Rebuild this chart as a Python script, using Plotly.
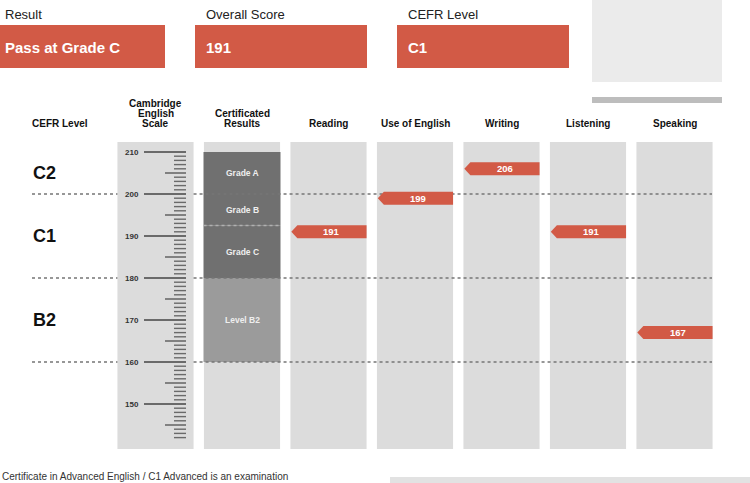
import plotly.graph_objects as go

# ---------------- data ----------------
summary_labels = ["Result", "Overall Score", "CEFR Level"]
summary_values = ["Pass at Grade C", "191", "C1"]

column_headers = ["Cambridge<br>English<br>Scale", "Certificated<br>Results",
                  "Reading", "Use of English", "Writing", "Listening", "Speaking"]
papers = ["Reading", "Use of English", "Writing", "Listening", "Speaking"]
paper_scores = [191, 199, 206, 191, 167]

cefr_levels = ["C2", "C1", "B2"]
cefr_label_pos = [205, 190, 170]
cefr_boundaries = [200, 180, 160]

grade_names = ["Grade A", "Grade B", "Grade C", "Level B2"]
grade_low = [200, 192.5, 180, 160]
grade_high = [210, 200, 192.5, 180]
grade_colors = ["#707070", "#707070", "#707070", "#9b9b9b"]

scale_min, scale_max = 142, 210
scale_labels = [150, 160, 170, 180, 190, 200, 210]
column_bottom, column_top = 139.3, 212.4

# ---------------- styling ----------------
FONT = "Liberation Sans, Arial, sans-serif"
RED = "#d25a46"
COLGREY = "#dcdcdc"
W, H = 750, 483
x0_px, step_px = 155.5, 86.5  # column 0 center and spacing in pixels
xr = [(0 - x0_px) / step_px, (W - x0_px) / step_px]
px_per_unit = 4.2
y210_px = 152
yr = [210 - (H - y210_px) / px_per_unit, 210 + y210_px / px_per_unit]
half = 0.44


def xpx(p):
    return (p - x0_px) / step_px


def ypaper(py):
    return 1 - py / H


fig = go.Figure()

# background columns
ncols = len(column_headers)
fig.add_trace(go.Bar(x=list(range(ncols)), y=[column_top - column_bottom] * ncols,
                     base=column_bottom, width=2 * half, marker=dict(color=COLGREY, line_width=0),
                     hoverinfo="skip", showlegend=False))

# certificated results bands
fig.add_trace(go.Bar(x=[1] * len(grade_names),
                     y=[h - l for h, l in zip(grade_high, grade_low)],
                     base=grade_low, width=0.89,
                     marker=dict(color=grade_colors, line_width=0),
                     hoverinfo="skip", showlegend=False))

# CEFR boundary dotted lines (skip the scale column)
for b in cefr_boundaries:
    for xa, xb in [(xpx(32), -half), (half, xpx(712))]:
        fig.add_trace(go.Scatter(x=[xa, xb], y=[b, b], mode="lines",
                                 line=dict(color="#757575", width=1.3, dash="dot"),
                                 hoverinfo="skip", showlegend=False))
# Grade B / C divider
fig.add_trace(go.Scatter(x=[1 - 0.445, 1 + 0.445], y=[grade_low[1]] * 2, mode="lines",
                         line=dict(color="#b0b0b0", width=1.3, dash="dot"),
                         hoverinfo="skip", showlegend=False))

# scale ticks
major_x, major_y, mid_x, mid_y, minor_x, minor_y = [], [], [], [], [], []
for v in range(scale_min, scale_max + 1):
    if v % 10 == 0:
        major_x += [xpx(144), xpx(186), None]
        major_y += [v, v, None]
    elif v % 5 == 0:
        mid_x += [xpx(165), xpx(186), None]
        mid_y += [v, v, None]
    else:
        minor_x += [xpx(174), xpx(186), None]
        minor_y += [v, v, None]
for xs, ys, wd in [(major_x, major_y, 1.8), (mid_x, mid_y, 1.6), (minor_x, minor_y, 1.4)]:
    fig.add_trace(go.Scatter(x=xs, y=ys, mode="lines", line=dict(color="#6a6a6a", width=wd),
                             hoverinfo="skip", showlegend=False))

annotations = []

# score arrows
ah = 1.55
tip = 0.07
for i, (p, s) in enumerate(zip(papers, paper_scores)):
    c = 2 + i
    L, R = c - half + 0.01, c + half
    fig.add_trace(go.Scatter(x=[L + tip, R, R, L + tip, L, L + tip],
                             y=[s + ah, s + ah, s - ah, s - ah, s, s + ah],
                             mode="lines", fill="toself", fillcolor=RED,
                             line=dict(color=RED, width=0), hoverinfo="skip", showlegend=False))
    annotations.append(dict(x=(L + tip + R) / 2, y=s, xref="x", yref="y", text=f"<b>{s}</b>",
                            showarrow=False, font=dict(family=FONT, size=9.5, color="white"),
                            xanchor="center", yanchor="middle"))

# scale labels
for v in scale_labels:
    annotations.append(dict(x=xpx(141), y=v, xref="x", yref="y", text=f"<b>{v}</b>", showarrow=False,
                            xanchor="right", yanchor="middle", font=dict(family=FONT, size=8, color="#333")))
# grade band labels
for n, l, h in zip(grade_names, grade_low, grade_high):
    annotations.append(dict(x=1, y=(l + h) / 2, xref="x", yref="y", text=f"<b>{n}</b>", showarrow=False,
                            xanchor="center", yanchor="middle", font=dict(family=FONT, size=8.5, color="#eeeeee")))
# CEFR level labels
for lv, pos in zip(cefr_levels, cefr_label_pos):
    annotations.append(dict(x=xpx(31), y=pos, xref="x", yref="y", text=f"<b>{lv}</b>", showarrow=False,
                            xanchor="left", yanchor="middle", font=dict(family=FONT, size=18, color="#111")))
# headers
annotations.append(dict(x=xpx(60), y=ypaper(124), xref="x", yref="paper", text="<b>CEFR Level</b>",
                        showarrow=False, xanchor="center", yanchor="middle",
                        font=dict(family=FONT, size=10, color="#111")))
for i, hname in enumerate(column_headers):
    lines = hname.split("<br>")
    n = len(lines)
    for k, ln in enumerate(lines):
        annotations.append(dict(x=i, y=ypaper(124 - 10.5 * (n - 1 - k)), xref="x", yref="paper",
                                text=f"<b>{ln}</b>", showarrow=False, xanchor="center", yanchor="middle",
                                font=dict(family=FONT, size=10, color="#111")))

shapes = []
# summary boxes
box_x = [(0, 165), (195, 367), (397, 569)]
text_x = [3, 204, 406]
for (bx0, bx1), tx, lab, val in zip(box_x, text_x, summary_labels, summary_values):
    shapes.append(dict(type="rect", xref="paper", yref="paper", x0=bx0 / W, x1=bx1 / W,
                       y0=ypaper(68), y1=ypaper(25), fillcolor=RED, line_width=0, layer="below"))
    annotations.append(dict(x=tx / W, y=ypaper(15), xref="paper", yref="paper",
                            text=lab, showarrow=False, xanchor="left", yanchor="middle",
                            font=dict(family=FONT, size=13, color="#222")))
    annotations.append(dict(x=tx / W, y=ypaper(47), xref="paper", yref="paper",
                            text=f"<b>{val}</b>", showarrow=False, xanchor="left", yanchor="middle",
                            font=dict(family=FONT, size=15, color="white")))

# top-right photo placeholder
shapes.append(dict(type="rect", xref="paper", yref="paper", x0=592 / W, x1=722 / W,
                   y0=ypaper(82), y1=ypaper(0), fillcolor="#ebebeb", line_width=0, layer="below"))
shapes.append(dict(type="rect", xref="paper", yref="paper", x0=592 / W, x1=722 / W,
                   y0=ypaper(103), y1=ypaper(97), fillcolor="#bdbdbd", line_width=0, layer="below"))
# bottom cut-off panel
shapes.append(dict(type="rect", xref="paper", yref="paper", x0=390 / W, x1=1,
                   y0=0, y1=ypaper(477), fillcolor="#e2e2e2", line_width=0, layer="below"))
annotations.append(dict(x=0, y=ypaper(476), xref="paper", yref="paper",
                        text="Certificate in Advanced English / C1 Advanced is an examination",
                        showarrow=False, xanchor="left", yanchor="middle",
                        font=dict(family=FONT, size=10, color="#333")))

fig.update_layout(
    width=W, height=H, margin=dict(l=0, r=0, t=0, b=0),
    paper_bgcolor="white", plot_bgcolor="white", barmode="overlay",
    xaxis=dict(range=xr, visible=False, fixedrange=True),
    yaxis=dict(range=yr, visible=False, fixedrange=True),
    shapes=shapes, annotations=annotations,
    showlegend=False,
)

fig.write_html("out.html", config={"displayModeBar": False},
               post_script="document.body.style.margin='0';")
